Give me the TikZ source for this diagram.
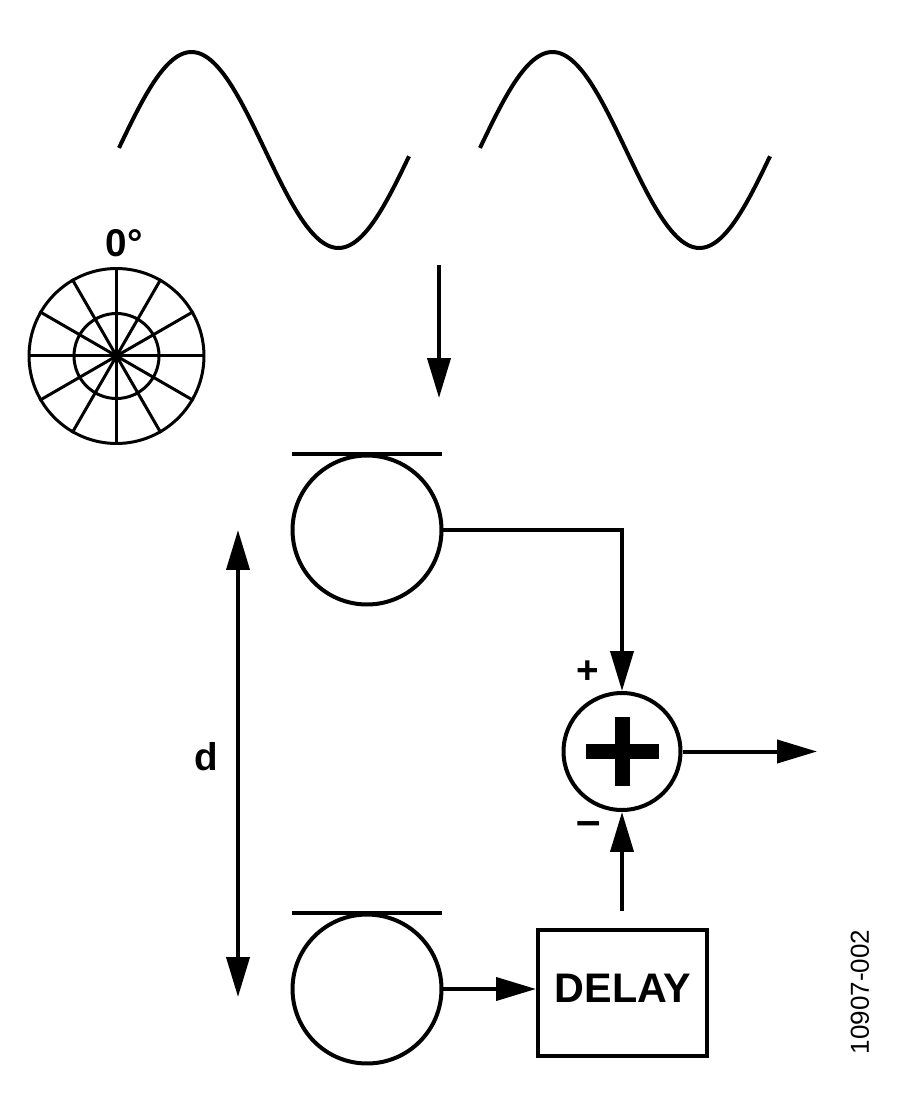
\documentclass[tikz,border=0pt]{standalone}
\usepackage{fontspec}
\setmainfont{Liberation Sans}
\usetikzlibrary{arrows.meta}

\begin{document}
\begin{tikzpicture}[
    x=0.02cm,
    y=-0.02cm,
    line/.style={line width=0.08cm},
    arrow/.style={line, -{Triangle[length=0.8cm,width=0.46cm]}},
    bothways/.style={line, {Triangle[length=0.8cm,width=0.46cm]}-{Triangle[length=0.8cm,width=0.46cm]}},
    wave/.style={line},
    spoke/.style={line width=0.06cm},
    element/.style={draw, circle, line, minimum size=2.98cm, inner sep=0pt},
    summer/.style={draw, circle, line, minimum size=2.34cm, inner sep=0pt},
    delaybox/.style={draw, line, minimum width=3.38cm, minimum height=2.52cm, inner sep=0pt},
    tag/.style={font=\fontsize{22}{24}\bfseries\selectfont, inner sep=0pt}
]
\useasboundingbox (0,0) rectangle (900,1094);

% Incoming wavefront
\foreach \off in {0,361}
{
    \draw[wave] plot[domain=119:409, samples=60, smooth] ({\x+\off},{150-98*sin((\x-118)*1.2245)});
}

% Phase wheel
\node[draw, circle, spoke, minimum size=3.5cm, inner sep=0pt] (wheel) at (116.5,356) {};
\node[draw, circle, spoke, minimum size=1.7cm, inner sep=0pt] (hub) at (116.5,356) {};
\foreach \a in {0,30,...,330}
{
    \draw[spoke] (wheel.center) -- (wheel.\a);
}
\node[tag] (phase) at (124,243) {0°};

% Elements
\node[element] (top) at (367,530) {};
\node[element] (bottom) at (367,989) {};
\draw[line] ([xshift=-1.5cm]top.north) -- ([xshift=1.5cm]top.north);
\draw[line] ([xshift=-1.5cm]bottom.north) -- ([xshift=1.5cm]bottom.north);

% Delay and sum
\node[delaybox] (delay) at (622.5,993) {};
\node[tag, font=\fontsize{23.5}{24}\bfseries\selectfont] (delaytext) at (623,988) {DELAY};
\node[summer] (sum) at (622,751.5) {};
\draw[line width=0.3cm] ([xshift=-0.73cm]sum.center) -- ([xshift=0.73cm]sum.center);
\draw[line width=0.3cm] ([yshift=-0.69cm]sum.center) -- ([yshift=0.69cm]sum.center);
\node[tag] (plus) at (588,672) {+};
\node[tag, font=\fontsize{25}{26}\bfseries\selectfont] (minus) at (589,829) {–};

% Connectors
\coordinate (in) at (439,265);
\coordinate (inend) at (439,398);
\coordinate (out) at (817,751.5);
\coordinate (dtop) at (238,530);
\coordinate (dbot) at (238,997);
\draw[arrow] (in) -- (inend);
\draw[arrow] (top.east) -| (sum.north);
\draw[arrow] (sum.east) -- (out);
\draw[arrow] (bottom.east) -- (delay.west |- bottom.east);
\draw[arrow, shorten <=0.34cm] (delay.north -| sum.south) -- (sum.south);
\draw[bothways] (dtop) -- (dbot);
\node[tag] (d) at (206,757) {d};

\node[rotate=90, font=\fontsize{14.8}{16}\selectfont, inner sep=0pt] (code) at (860,992) {10907-002};
\end{tikzpicture}
\end{document}
